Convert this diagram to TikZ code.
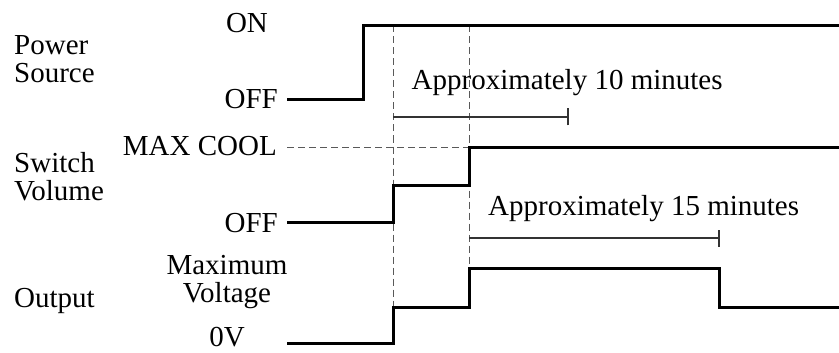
\documentclass[tikz,border=0pt]{standalone}
\usepackage{fontspec}
\setmainfont{Liberation Serif}
\begin{document}
\begin{tikzpicture}[x=1pt,y=-1pt,
  lbl/.style={inner sep=0pt,text height=19.5pt,text depth=4pt,font=\fontsize{29}{30}\selectfont},
  sig/.style={line width=3pt,line join=miter,line cap=rect},
  guide/.style={line width=1pt,draw=black!65,dash pattern=on 7pt off 4pt},
  span/.style={line width=1.4pt,draw=black!80}]
\useasboundingbox (0,0) rectangle (839,353);
% left labels
\node[lbl,anchor=base west] (pw) at (14,55) {Power};
\node[lbl,anchor=base west] (src) at (14,83) {Source};
\node[lbl,anchor=base west] (sw) at (14,172) {Switch};
\node[lbl,anchor=base west] (vol) at (14,200) {Volume};
\node[lbl,anchor=base west] (out) at (14,307) {Output};
% level labels
\node[lbl,anchor=base] (on) at (247,33) {ON};
\node[lbl,anchor=base east] (off1) at (278,108.5) {OFF};
\node[lbl,anchor=base east] (maxc) at (277,155) {MAX COOL};
\node[lbl,anchor=base east] (off2) at (278,232.5) {OFF};
\node[lbl,anchor=base] (maxi) at (227,274.5) {Maximum};
\node[lbl,anchor=base] (volt) at (227,302.5) {Voltage};
\node[lbl,anchor=base] (zv) at (227,346.5) {0V};
% duration labels
\node[lbl,anchor=base west] (t10) at (411.5,90) {Approximately 10 minutes};
\node[lbl,anchor=base west] (t15) at (488,215) {Approximately 15 minutes};
% coordinates
\coordinate (a1) at (393,25.5);
\coordinate (a2) at (393,307);
\coordinate (b1) at (469,25.5);
\coordinate (b2) at (469,268);
% guides
\draw[guide] (287,147) -- (469,147);
\draw[guide] (a1) -- (a2);
\draw[guide] (b1) -- (b2);
% spans
\coordinate (s10a) at (393,117);
\coordinate (s10b) at (568,117);
\draw[span] (s10a) -- (s10b);
\draw[span] ([yshift=-8.5pt]s10b) -- ([yshift=8.5pt]s10b);
\coordinate (s15a) at (469,238);
\coordinate (s15b) at (719,238);
\draw[span] (s15a) -- (s15b);
\draw[span] ([yshift=-8.5pt]s15b) -- ([yshift=8.5pt]s15b);
% signals
\draw[sig] (288,100) -- (363,100) -- (363,25.5) -- (845,25.5);
\draw[sig] (288,222) -- (393,222) -- (393,185) -- (469,185) -- (469,147) -- (845,147);
\draw[sig] (288,343) -- (393,343) -- (393,307) -- (469,307) -- (469,268) -- (719,268) -- (719,307) -- (845,307);
\end{tikzpicture}
\end{document}
